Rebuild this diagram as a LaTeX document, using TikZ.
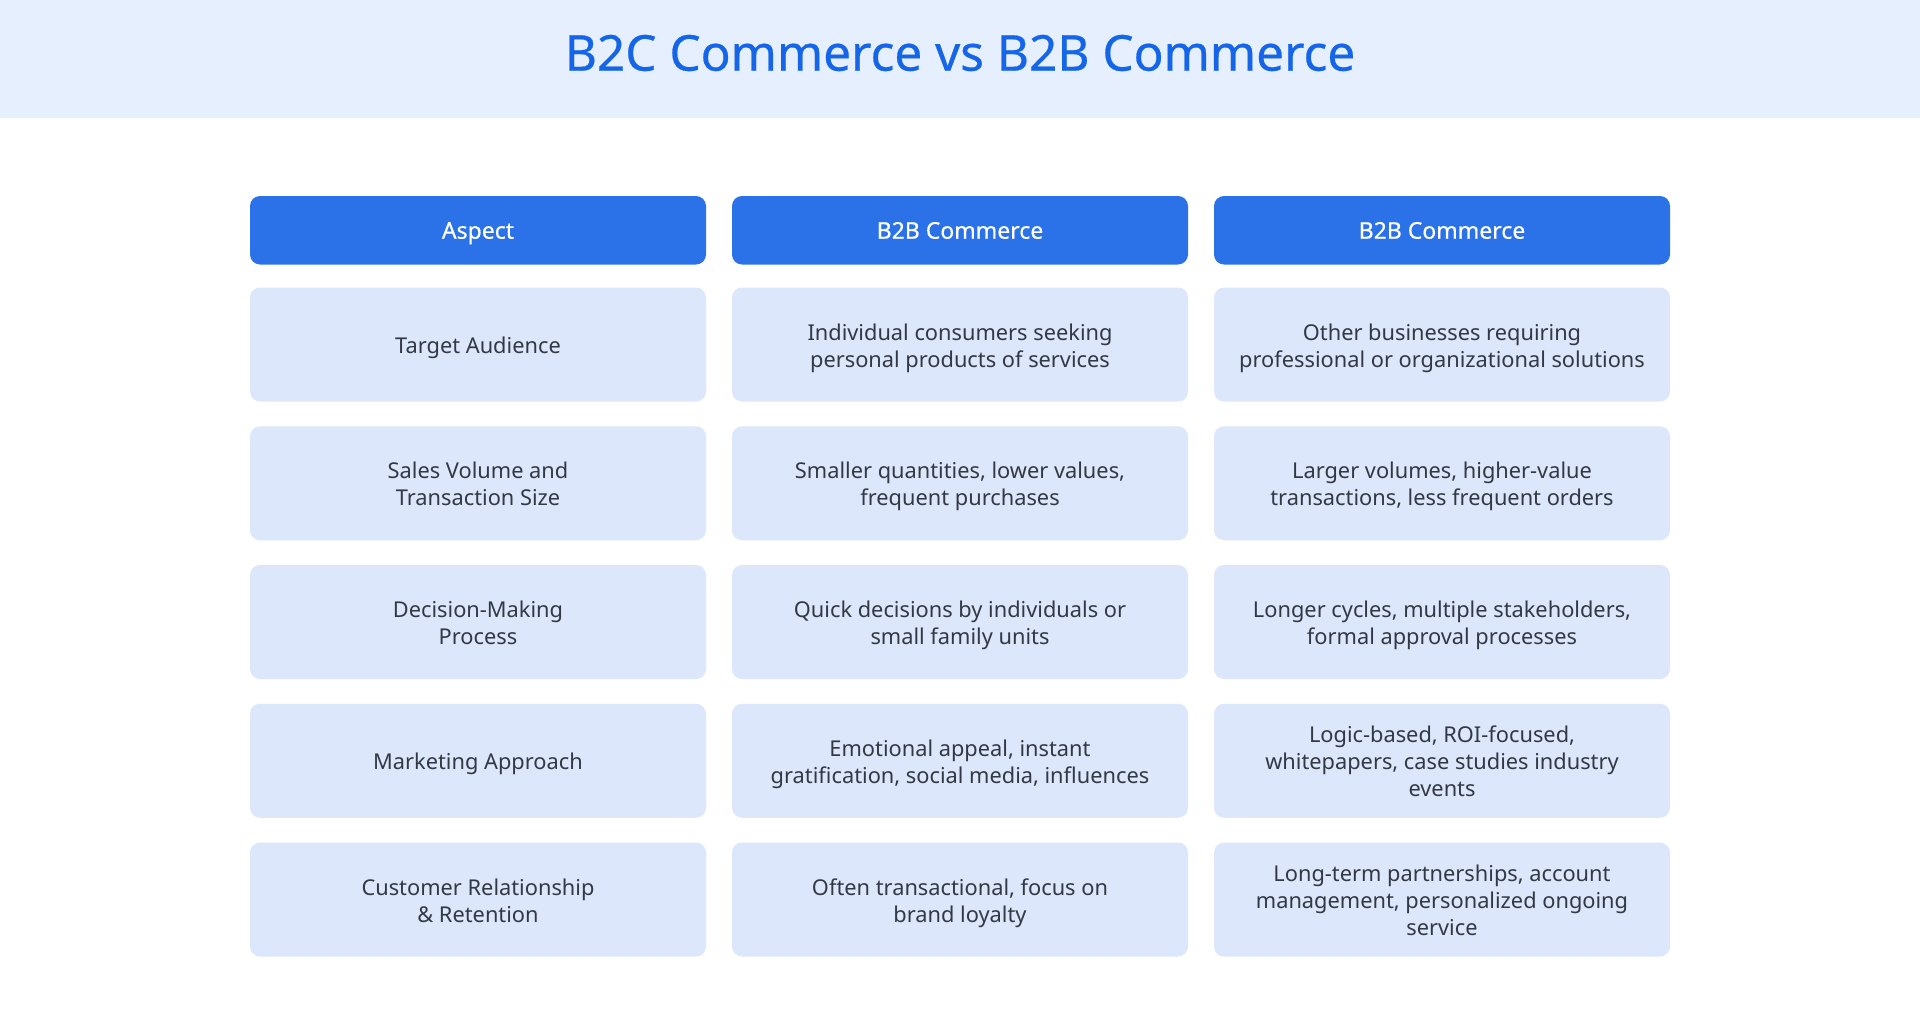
\documentclass[tikz,border=0pt]{standalone}
\usepackage{fontspec}
\setmainfont{Noto Sans}
\newfontfamily\medfont[FakeBold=0.5]{Noto Sans}
\definecolor{band}{RGB}{230,239,253}
\definecolor{titleblue}{RGB}{21,101,232}
\definecolor{headfill}{RGB}{43,114,232}
\definecolor{cellfill}{RGB}{221,231,251}
\definecolor{bodytext}{RGB}{50,56,68}
\newcommand{\mycell}[4]{%
  \node[cellbox] (#1) at (#2,#3) {};
  \node[celltext] (#1t) at (#1.center) {#4};}
\newcommand{\myhead}[4]{%
  \node[headbox] (#1) at (#2,#3) {};
  \node[headtext] (#1t) at (#1.center) {#4};}
\begin{document}
\begin{tikzpicture}[x=1pt,y=-1pt,
  cellbox/.style={draw=none, fill=cellfill, rounded corners=10pt, minimum width=456pt, minimum height=114pt, inner sep=0pt},
  celltext/.style={inner sep=0pt, align=center, text=bodytext, text depth=5.4pt, yshift=-3.5pt, font=\fontsize{21.8}{27}\selectfont},
  headbox/.style={cellbox, fill=headfill, minimum height=68.5pt},
  headtext/.style={inner sep=0pt, align=center, text=white, text height=16.5pt, text depth=5.6pt, yshift=-3pt, font=\medfont\fontsize{23}{27}\selectfont},
  titletext/.style={text=titleblue, font=\medfont\fontsize{49.5}{58}\selectfont, inner sep=0pt}]
\fill[white] (0,0) rectangle (1920,1036);
\useasboundingbox (0,0) rectangle (1920,1036);
\fill[band] (0,0) rectangle (1920,117.5);
\node[titletext] (title) at (960,53) {B2C Commerce vs B2B Commerce};
% header row
\myhead{h1}{478}{230.25}{Aspect}
\myhead{h2}{960}{230.25}{B2B Commerce}
\myhead{h3}{1442}{230.25}{B2B Commerce}
% row 1
\mycell{a1}{478}{344.5}{Target Audience}
\mycell{b1}{960}{344.5}{Individual consumers seeking\\personal products of services}
\mycell{c1}{1442}{344.5}{Other businesses requiring\\professional or organizational solutions}
% row 2
\mycell{a2}{478}{483.25}{Sales Volume and\\Transaction Size}
\mycell{b2}{960}{483.25}{Smaller quantities, lower values,\\frequent purchases}
\mycell{c2}{1442}{483.25}{Larger volumes, higher-value\\transactions, less frequent orders}
% row 3
\mycell{a3}{478}{622}{Decision-Making\\Process}
\mycell{b3}{960}{622}{Quick decisions by individuals or\\small family units}
\mycell{c3}{1442}{622}{Longer cycles, multiple stakeholders,\\formal approval processes}
% row 4
\mycell{a4}{478}{760.75}{Marketing Approach}
\mycell{b4}{960}{760.75}{Emotional appeal, instant\\gratification, social media, influences}
\mycell{c4}{1442}{760.75}{Logic-based, ROI-focused,\\whitepapers, case studies industry\\events}
% row 5
\mycell{a5}{478}{899.5}{Customer Relationship\\\& Retention}
\mycell{b5}{960}{899.5}{Often transactional, focus on\\brand loyalty}
\mycell{c5}{1442}{899.5}{Long-term partnerships, account\\management, personalized ongoing\\service}
\end{tikzpicture}
\end{document}
